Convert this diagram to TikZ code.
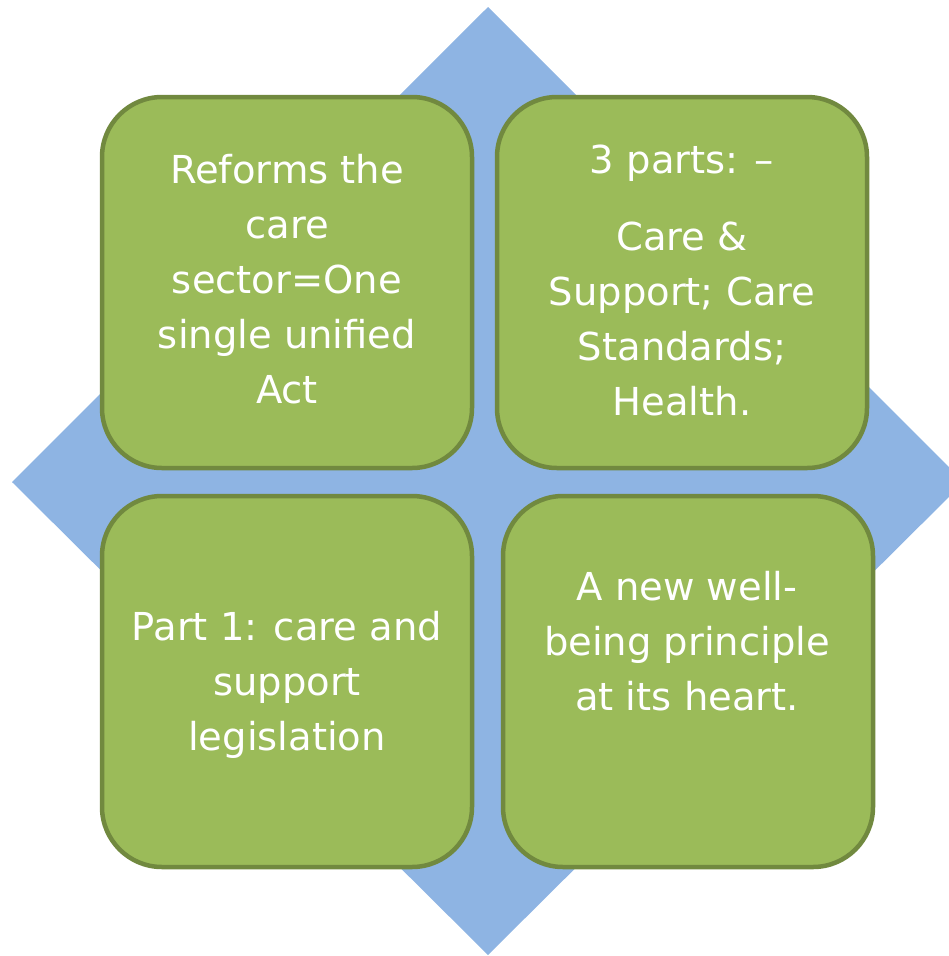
\documentclass[tikz,border=0pt]{standalone}
\usepackage{fontspec}
\setmainfont{DejaVu Sans}
\definecolor{diamondblue}{HTML}{8EB4E3}
\definecolor{boxgreen}{HTML}{9BBB59}
\definecolor{boxborder}{HTML}{71893F}
\newcommand\boxtext[1]{\vtop{\baselineskip=55pt\lineskiplimit=-100pt\halign{\hfil##\hfil\cr#1\crcr}}}
\tikzset{
  greenbox/.style={draw=boxborder, fill=boxgreen, line width=4.5pt, rounded corners=60pt},
  boxlabel/.style={anchor=base, inner sep=0pt, text=white, font=\fontsize{38.5}{55}\selectfont},
}
\begin{document}
\begin{tikzpicture}[x=1pt,y=-1pt]
\useasboundingbox (0,0) rectangle (949,956);
\begin{scope}
\clip (0,0) rectangle (949,956);
\fill[diamondblue] (488,7) -- (964,482) -- (488,955) -- (12,482) -- cycle;
\end{scope}
\draw[greenbox] (102,97) rectangle (472,468);
\draw[greenbox] (497,97) rectangle (867,468);
\draw[greenbox] (102,496) rectangle (472,867);
\draw[greenbox] (503,496) rectangle (873,867);
\node[boxlabel] (tl) at (287,183) {\boxtext{Reforms the\cr care\cr sector=One\cr single unified\cr Act}};
\node[boxlabel] (tr) at (682,173) {\boxtext{3 parts: –\cr\noalign{\vskip22pt} Care \&\cr Support; Care\cr Standards;\cr Health.}};
\node[boxlabel] (bl) at (287,640) {\boxtext{Part 1: care and\cr support\cr legislation}};
\node[boxlabel] (br) at (687,600) {\boxtext{A new well-\cr being principle\cr at its heart.}};
\end{tikzpicture}
\end{document}
